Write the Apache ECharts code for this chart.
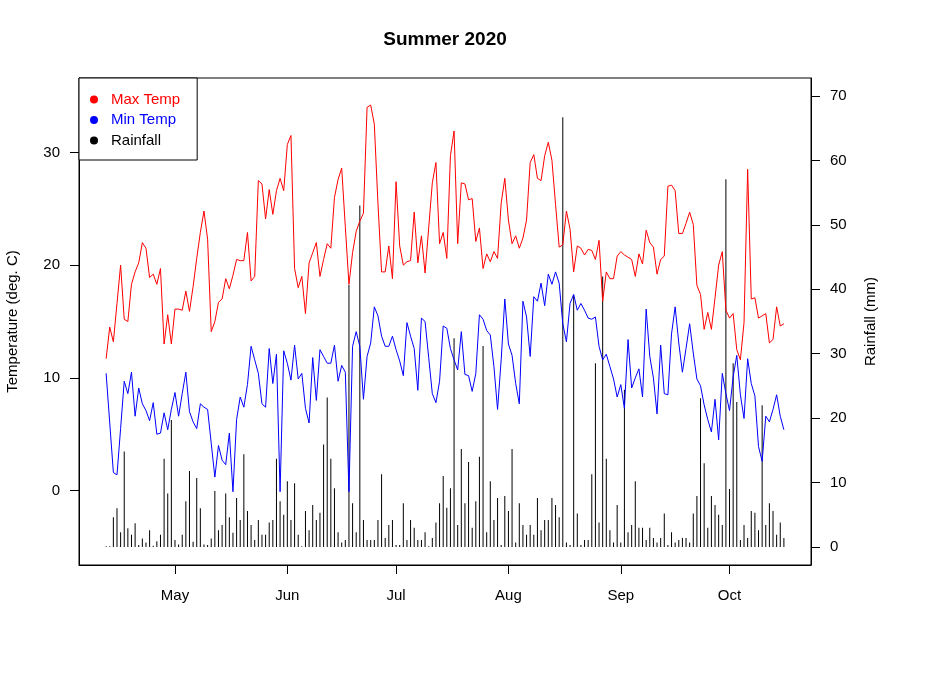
<!DOCTYPE html>
<html>
<head>
<meta charset="utf-8">
<script src="https://cdn.jsdelivr.net/npm/echarts@6/dist/echarts.min.js"></script>
<style>
  html, body { margin: 0; padding: 0; background: #fff; }
  #main { width: 929px; height: 683px; }
</style>
</head>
<body>
<div id="main"></div>
<script>
// daily records, first day 2020-04-12
const startDay = '2020-04-12'

const maxTemp = [
  11.7, 14.5, 13.2, 16.6, 20.0, 15.2, 15.0, 18.3, 19.4, 20.2,
  22.0, 21.5, 18.9, 19.2, 18.3, 19.7, 13.0, 15.6, 13.0, 16.1,
  16.1, 16.0, 17.7, 15.9, 18.1, 20.6, 22.9, 24.8, 22.3, 14.1,
  15.0, 16.7, 17.0, 18.8, 17.9, 19.1, 20.5, 20.4, 20.4, 22.9,
  18.6, 19.0, 27.5, 27.2, 24.1, 26.7, 24.5, 26.6, 27.7, 26.6,
  30.7, 31.5, 19.7, 18.0, 19.0, 15.7, 20.2, 21.1, 22.0, 19.0,
  20.5, 21.9, 21.5, 26.0, 27.6, 28.6, 23.4, 18.3, 21.1, 23.0,
  23.9, 24.6, 34.0, 34.2, 32.5, 25.5, 19.4, 19.4, 21.7, 18.8,
  27.4, 21.7, 20.0, 20.3, 20.4, 24.7, 20.2, 22.6, 19.3, 23.3,
  27.3, 29.1, 21.9, 22.9, 20.6, 29.7, 31.9, 21.9, 27.3, 27.2,
  25.8, 25.9, 22.1, 23.3, 19.7, 21.0, 20.3, 21.2, 20.6, 25.5,
  27.7, 24.0, 21.9, 22.6, 21.5, 22.4, 24.0, 29.1, 29.8, 27.7,
  27.5, 29.7, 30.9, 29.3, 25.4, 21.6, 21.8, 24.8, 23.2, 19.4,
  21.7, 21.5, 20.9, 21.4, 21.3, 20.5, 22.2, 16.8, 19.4, 18.8,
  18.8, 20.8, 21.2, 20.9, 20.7, 20.5, 19.0, 21.0, 20.1, 23.1,
  22.0, 21.6, 19.2, 20.5, 20.8, 27.0, 27.1, 26.6, 22.8, 22.8,
  23.7, 24.7, 23.6, 18.2, 17.4, 14.3, 15.8, 14.3, 17.1, 20.0,
  21.2, 16.0, 15.3, 15.7, 12.5, 11.6, 14.9, 28.5, 17.0, 17.1,
  15.3, 15.5, 15.7, 13.1, 13.4, 16.3, 14.6, 14.8
]

const minTemp = [
  10.4, 6.0, 1.6, 1.4, 5.5, 9.7, 8.6, 10.5, 6.6, 9.1,
  7.7, 7.1, 6.2, 7.8, 5.0, 5.1, 6.9, 5.4, 7.2, 8.7,
  6.6, 8.6, 10.5, 7.0, 6.1, 5.5, 7.7, 7.4, 7.2, 4.2,
  1.2, 4.0, 2.7, 2.3, 5.1, -0.1, 6.3, 8.3, 7.4, 9.4,
  12.8, 11.6, 10.4, 7.7, 7.4, 12.6, 9.5, 12.1, -0.1, 12.4,
  11.3, 9.8, 12.9, 9.9, 10.4, 7.3, 6.0, 11.8, 8.0, 12.5,
  11.9, 11.3, 11.3, 12.9, 9.7, 11.1, 10.5, -0.1, 12.8, 14.1,
  12.8, 8.1, 11.9, 13.1, 16.3, 15.5, 13.7, 12.8, 12.8, 13.7,
  12.5, 11.5, 10.2, 14.9, 13.7, 12.6, 8.9, 15.3, 15.0, 11.8,
  8.6, 7.8, 9.7, 14.6, 14.4, 12.6, 11.6, 10.7, 14.1, 10.3,
  10.2, 8.8, 10.4, 15.6, 15.2, 14.2, 13.8, 11.0, 7.2, 11.6,
  17.0, 13.0, 12.0, 9.5, 7.7, 16.8, 15.4, 11.9, 17.2, 16.8,
  18.4, 16.4, 19.2, 18.3, 19.4, 18.4, 14.8, 13.2, 16.6, 17.4,
  16.0, 16.6, 16.0, 15.3, 15.2, 15.4, 12.8, 11.6, 12.1, 11.0,
  9.9, 8.3, 9.4, 7.3, 13.4, 9.1, 10.0, 10.8, 8.3, 16.1,
  11.9, 10.0, 6.8, 12.9, 8.6, 8.5, 13.9, 16.3, 13.1, 10.5,
  12.6, 14.8, 12.2, 9.9, 9.3, 7.6, 6.3, 5.2, 8.1, 4.5,
  10.4, 8.6, 7.1, 10.1, 12.0, 8.5, 6.4, 11.7, 9.5, 8.4,
  3.9, 2.6, 6.6, 6.1, 7.2, 8.5, 6.6, 5.4
]

const rainfall = [
  0.1, 0.1, 4.6, 6.0, 2.3, 14.8, 2.9, 1.9, 3.7, 0.3,
  1.3, 0.7, 2.6, 0.2, 0.9, 1.9, 13.7, 8.3, 19.7, 1.1,
  0.4, 1.9, 7.1, 11.8, 0.8, 10.7, 6.0, 0.4, 0.3, 1.3,
  8.7, 2.6, 3.4, 8.3, 4.6, 2.2, 7.6, 4.2, 14.4, 5.6,
  3.4, 1.1, 4.2, 1.9, 1.9, 3.8, 4.2, 13.7, 7.1, 5.0,
  10.2, 4.2, 9.9, 1.9, 0.1, 5.6, 2.6, 6.5, 4.2, 5.3,
  15.9, 23.2, 13.7, 9.1, 2.3, 0.7, 1.1, 40.7, 6.8, 2.3,
  53.0, 4.2, 1.1, 1.1, 1.1, 4.2, 11.3, 1.4, 3.4, 4.2,
  0.3, 0.3, 6.8, 1.1, 4.2, 3.0, 1.1, 1.1, 2.3, 0.1,
  1.4, 3.8, 6.8, 11.0, 6.1, 9.1, 32.4, 3.4, 15.2, 6.8,
  13.2, 3.0, 7.1, 14.0, 31.2, 2.3, 10.2, 4.2, 7.6, 0.3,
  7.9, 5.6, 15.2, 0.7, 6.8, 3.4, 1.9, 3.4, 1.9, 7.6,
  2.6, 4.2, 4.2, 7.6, 6.5, 4.6, 66.7, 0.7, 0.3, 39.1,
  5.2, 0.3, 1.1, 1.1, 11.3, 28.5, 3.8, 42.0, 13.7, 2.6,
  0.7, 6.5, 0.7, 24.4, 2.3, 3.4, 10.2, 3.0, 3.0, 1.1,
  3.0, 1.4, 0.7, 1.4, 5.2, 0.3, 2.3, 0.7, 1.1, 1.4,
  1.4, 0.7, 5.2, 7.9, 23.1, 13.0, 3.0, 7.9, 6.5, 5.0,
  3.4, 57.1, 9.0, 28.5, 22.5, 1.1, 3.4, 1.4, 5.6, 5.3,
  2.6, 22.0, 3.4, 6.8, 5.6, 1.9, 3.8, 1.4
]

const monthTicks = ['2020-05-01', '2020-06-01', '2020-07-01', '2020-08-01', '2020-09-01', '2020-10-01']
const monthNames = ['Jan', 'Feb', 'Mar', 'Apr', 'May', 'Jun', 'Jul', 'Aug', 'Sep', 'Oct', 'Nov', 'Dec']
const tempTicks = [0, 10, 20, 30]
const rainTicks = [0, 10, 20, 30, 40, 50, 60, 70]

const DAY = 86400000
const t0 = Date.parse(startDay + 'T00:00:00Z')
const dates = maxTemp.map((v, i) => t0 + i * DAY)
const monthVals = monthTicks.map(s => Date.parse(s + 'T00:00:00Z'))
// R style 4% padding on the x range
const pad = (dates[dates.length - 1] - dates[0]) * 0.04

const font = "'Liberation Sans', Arial, Helvetica, sans-serif"

let myChart = echarts.init(document.getElementById('main'))
let option = {
    animation: false,
    backgroundColor: '#fff',
    textStyle: { fontFamily: font, color: '#000' },
    graphic: [{
        type: 'text',
        x: 445, y: 40,
        style: {
            text: 'Summer 2020',
            font: 'bold 19px ' + font,
            fill: '#000',
            textAlign: 'center',
            textVerticalAlign: 'middle'
        }
    }],
    legend: {
        orient: 'vertical',
        left: 79,
        top: 78,
        padding: [14, 17, 12, 11],
        itemGap: 5.5,
        itemWidth: 8,
        itemHeight: 8,
        icon: 'circle',
        borderColor: '#000',
        borderWidth: 1,
        backgroundColor: '#fff',
        textStyle: { fontSize: 15, fontFamily: font, padding: [0, 0, 0, 8] },
        data: [
            { name: 'Max Temp', textStyle: { color: '#ff0000' } },
            { name: 'Min Temp', textStyle: { color: '#0000ff' } },
            { name: 'Rainfall', textStyle: { color: '#000' } }
        ]
    },
    grid: {
        left: 79, right: 118, top: 78, bottom: 118,
        outerBoundsMode: 'none',
        show: true,
        borderColor: '#000',
        borderWidth: 1,
        backgroundColor: 'transparent'
    },
    xAxis: {
        type: 'value',
        min: dates[0] - pad,
        max: dates[dates.length - 1] + pad,
        splitLine: { show: false },
        axisLine: { show: true, onZero: false, lineStyle: { color: '#000' } },
        axisTick: { show: true, length: 9, customValues: monthVals, lineStyle: { color: '#000' } },
        axisLabel: {
            customValues: monthVals,
            margin: 23,
            fontSize: 15,
            color: '#000',
            formatter: v => monthNames[new Date(v).getUTCMonth()]
        }
    },
    yAxis: [{
        type: 'value',
        position: 'left',
        min: -6.6,
        max: 36.6,
        name: 'Temperature (deg. C)',
        nameLocation: 'middle',
        nameRotate: 90,
        nameGap: 59,
        nameTextStyle: { fontSize: 15, color: '#000' },
        splitLine: { show: false },
        axisLine: { show: true, lineStyle: { color: '#000' } },
        axisTick: { show: true, length: 9, customValues: tempTicks, lineStyle: { color: '#000' } },
        axisLabel: { customValues: tempTicks, margin: 19, fontSize: 15, color: '#000' }
    }, {
        type: 'value',
        position: 'right',
        min: -2.8,
        max: 72.8,
        name: 'Rainfall (mm)',
        nameLocation: 'middle',
        nameRotate: 90,
        nameGap: 52,
        nameTextStyle: { fontSize: 15, color: '#000' },
        splitLine: { show: false },
        axisLine: { show: true, lineStyle: { color: '#000' } },
        axisTick: { show: true, length: 9, customValues: rainTicks, lineStyle: { color: '#000' } },
        axisLabel: { customValues: rainTicks, margin: 19, fontSize: 15, color: '#000' }
    }],
    series: [{
        name: 'Max Temp',
        type: 'line',
        yAxisIndex: 0,
        showSymbol: false,
        color: '#ff0000',
        lineStyle: { width: 1, color: '#ff0000' },
        data: dates.map((t, i) => [t, maxTemp[i]])
    }, {
        name: 'Min Temp',
        type: 'line',
        yAxisIndex: 0,
        showSymbol: false,
        color: '#0000ff',
        lineStyle: { width: 1, color: '#0000ff' },
        data: dates.map((t, i) => [t, minTemp[i]])
    }, {
        name: 'Rainfall',
        type: 'bar',
        yAxisIndex: 1,
        barWidth: 1,
        color: '#000',
        itemStyle: { color: '#000' },
        data: dates.map((t, i) => [t, rainfall[i]])
    }]
};
myChart.setOption(option);
</script>
</body>
</html>
